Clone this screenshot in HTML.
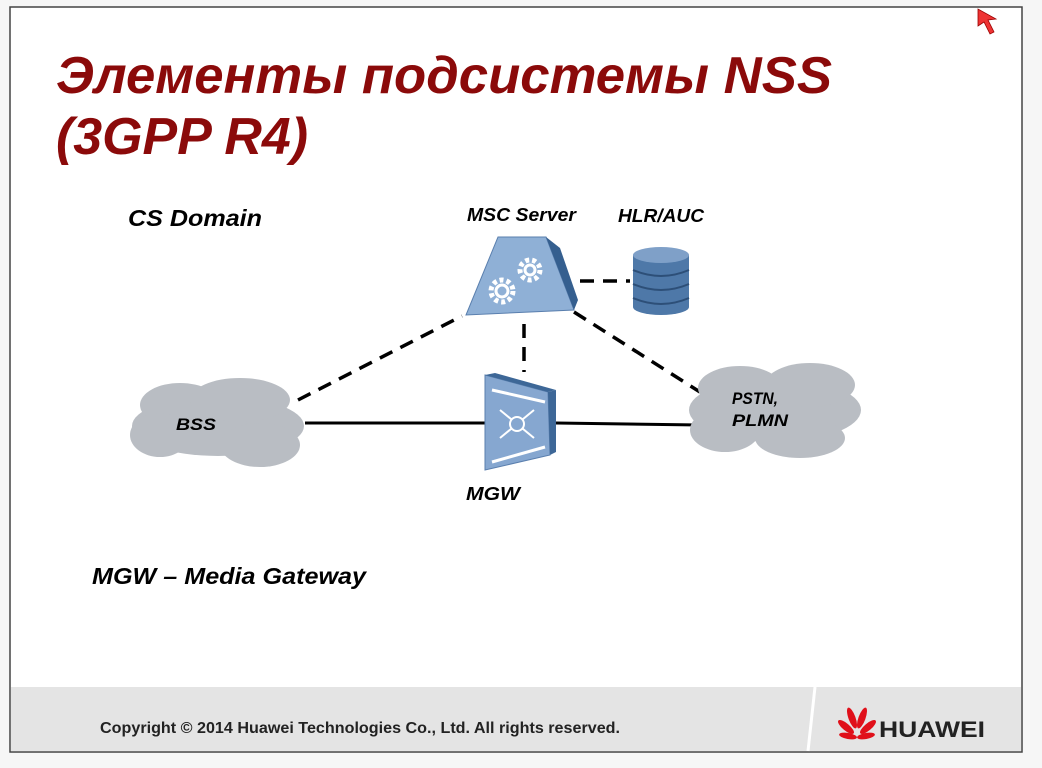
<!DOCTYPE html>
<html><head><meta charset="utf-8"><style>
html,body{margin:0;padding:0;background:#f6f6f6;width:1042px;height:768px;overflow:hidden}
svg{display:block}
</style></head><body>
<svg width="1042" height="768" xmlns="http://www.w3.org/2000/svg" font-family="Liberation Sans, sans-serif">
<rect x="10" y="7" width="1012" height="745" fill="#fff" stroke="#444" stroke-width="1.5"/>
<rect x="11" y="687" width="1010" height="64" fill="#e4e4e4"/>
<path d="M815 687 L808 751" stroke="#fff" stroke-width="3"/>
<text x="56" y="93" font-size="52" font-weight="bold" font-style="italic" fill="#8b0a0a" textLength="776" lengthAdjust="spacingAndGlyphs">Элементы подсистемы NSS</text>
<text x="56" y="154" font-size="52" font-weight="bold" font-style="italic" fill="#8b0a0a" textLength="252" lengthAdjust="spacingAndGlyphs">(3GPP R4)</text>
<text x="128" y="226" font-size="23" font-weight="bold" font-style="italic" textLength="134" lengthAdjust="spacingAndGlyphs">CS Domain</text>
<text x="92" y="584" font-size="23" font-weight="bold" font-style="italic" textLength="274" lengthAdjust="spacingAndGlyphs">MGW – Media Gateway</text>
<text x="467" y="221" font-size="18" font-weight="bold" font-style="italic" textLength="109" lengthAdjust="spacingAndGlyphs">MSC Server</text>
<text x="618" y="222" font-size="18" font-weight="bold" font-style="italic" textLength="86" lengthAdjust="spacingAndGlyphs">HLR/AUC</text>
<text x="466" y="500" font-size="18" font-weight="bold" font-style="italic" textLength="54" lengthAdjust="spacingAndGlyphs">MGW</text>
<g stroke="#000" stroke-width="3.5" stroke-dasharray="14,9" fill="none">
<line x1="298" y1="400" x2="462" y2="316"/>
<line x1="524" y1="324" x2="524" y2="372"/>
<line x1="580" y1="281" x2="630" y2="281"/>
<line x1="574" y1="312" x2="700" y2="392"/>
</g>
<line x1="305" y1="423" x2="488" y2="423" stroke="#000" stroke-width="3"/>
<line x1="556" y1="423" x2="700" y2="425" stroke="#000" stroke-width="3"/>
<g fill="#b9bdc3">
<ellipse cx="218" cy="426" rx="86" ry="30"/><ellipse cx="180" cy="405" rx="40" ry="22"/><ellipse cx="240" cy="400" rx="50" ry="22"/><ellipse cx="160" cy="435" rx="30" ry="22"/><ellipse cx="260" cy="445" rx="40" ry="22"/>
<ellipse cx="775" cy="410" rx="86" ry="32"/><ellipse cx="740" cy="388" rx="42" ry="22"/><ellipse cx="810" cy="385" rx="45" ry="22"/><ellipse cx="725" cy="430" rx="35" ry="22"/><ellipse cx="800" cy="438" rx="45" ry="20"/>
</g>
<text x="176" y="430" font-size="17" font-weight="bold" font-style="italic" textLength="40" lengthAdjust="spacingAndGlyphs">BSS</text>
<text x="732" y="404" font-size="17" font-weight="bold" font-style="italic" textLength="46" lengthAdjust="spacingAndGlyphs">PSTN,</text>
<text x="732" y="426" font-size="17" font-weight="bold" font-style="italic" textLength="56" lengthAdjust="spacingAndGlyphs">PLMN</text>
<polygon points="498,237 546,237 574,310 466,315" fill="#8fb0d6" stroke="#5a7fae"/>
<polygon points="546,237 560,248 578,300 574,310" fill="#355f8f"/>
<circle cx="502" cy="291" r="11" fill="none" stroke="#fff" stroke-width="5" stroke-dasharray="4,3"/>
<circle cx="502" cy="291" r="6" fill="none" stroke="#fff" stroke-width="3"/>
<circle cx="530" cy="270" r="10" fill="none" stroke="#fff" stroke-width="5" stroke-dasharray="4,3"/>
<circle cx="530" cy="270" r="5" fill="none" stroke="#fff" stroke-width="3"/>
<rect x="633" y="255" width="56" height="52" fill="#4e78a8"/>
<ellipse cx="661" cy="307" rx="28" ry="8" fill="#4e78a8"/>
<ellipse cx="661" cy="255" rx="28" ry="8" fill="#7fa0c8"/>
<g stroke="#2d4f78" stroke-width="2" fill="none">
<path d="M633 270 Q661 282 689 270"/><path d="M633 284 Q661 296 689 284"/><path d="M633 298 Q661 310 689 298"/>
</g>
<polygon points="485,375 548,392 550,455 485,470" fill="#86a7d0" stroke="#5a7fae"/>
<polygon points="485,375 495,373 556,390 548,392" fill="#3d6797"/>
<polygon points="548,392 556,390 556,452 550,455" fill="#3d6797"/>
<line x1="492" y1="390" x2="545" y2="402" stroke="#fff" stroke-width="3"/>
<line x1="492" y1="462" x2="545" y2="447" stroke="#fff" stroke-width="3"/>
<g stroke="#fff" stroke-width="2"><line x1="500" y1="410" x2="534" y2="438"/><line x1="534" y1="410" x2="500" y2="438"/></g>
<circle cx="517" cy="424" r="7" fill="#86a7d0"/>
<circle cx="517" cy="424" r="7" fill="none" stroke="#fff" stroke-width="2"/>
<polygon points="978,9 978,26 984,22 990,34 994,32 988,20 996,19" fill="#e33" stroke="#900" stroke-width="0.8"/>
<text x="100" y="733" font-size="16" font-weight="bold" fill="#222" textLength="520" lengthAdjust="spacingAndGlyphs">Copyright © 2014 Huawei Technologies Co., Ltd. All rights reserved.</text>
<g fill="#e0101a">
<ellipse cx="852" cy="718" rx="3.5" ry="11" transform="rotate(-20 852 718)"/>
<ellipse cx="862" cy="718" rx="3.5" ry="11" transform="rotate(20 862 718)"/>
<ellipse cx="846" cy="727" rx="3.5" ry="10" transform="rotate(-50 846 727)"/>
<ellipse cx="868" cy="727" rx="3.5" ry="10" transform="rotate(50 868 727)"/>
<ellipse cx="848" cy="736" rx="3" ry="9" transform="rotate(-80 848 736)"/>
<ellipse cx="866" cy="736" rx="3" ry="9" transform="rotate(80 866 736)"/>
</g>
<text x="879" y="737" font-size="22" font-weight="bold" fill="#222" textLength="106" lengthAdjust="spacingAndGlyphs">HUAWEI</text>
</svg>
</body></html>
